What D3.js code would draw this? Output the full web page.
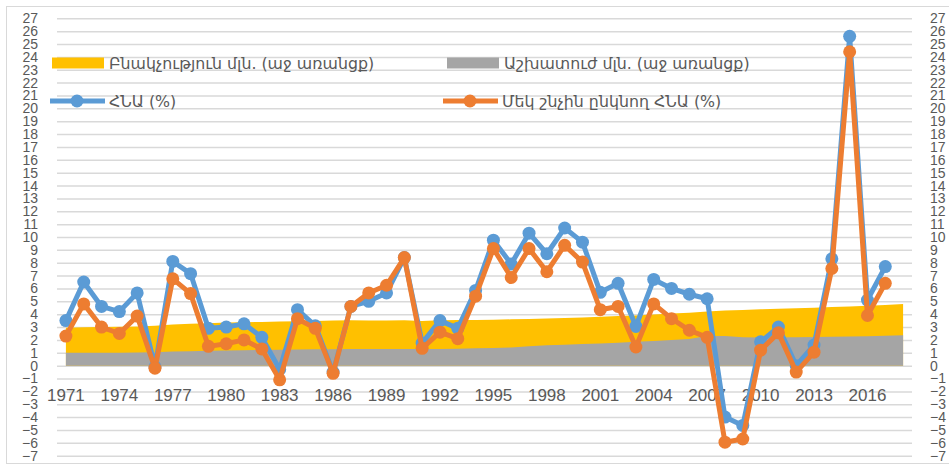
<!DOCTYPE html>
<html>
<head>
<meta charset="utf-8">
<script src="https://cdn.jsdelivr.net/npm/d3@7"></script>
<style>
  body { margin: 0; background: #fff; }
  svg { display: block; }
</style>
</head>
<body>
<svg id="chart" width="949" height="466"></svg>
<script>
var w = 949;
var h = 466;

var years = d3.range(1971, 2019);
var xTickYears = [1971, 1974, 1977, 1980, 1983, 1986, 1989, 1992, 1995, 1998, 2001, 2004, 2007, 2010, 2013, 2016];
var yTicks = [-7, -6, -5, -4, -3, -2, -1, 0, 1, 2, 3, 4, 5, 6, 7, 8, 9, 10, 11, 12, 13, 14, 15, 16, 17, 18, 19, 20, 21, 22, 23, 24, 25, 26, 27];

// population, mln (right axis)
var population = [2.95, 2.98, 3.0, 3.02, 3.05, 3.1, 3.2, 3.25, 3.3, 3.35, 3.38, 3.4, 3.43, 3.45, 3.48, 3.5,
  3.52, 3.5, 3.5, 3.52, 3.48, 3.52, 3.55, 3.55, 3.57, 3.6, 3.63, 3.67, 3.7, 3.75, 3.8, 3.85,
  3.9, 3.97, 4.05, 4.12, 4.2, 4.28, 4.33, 4.38, 4.42, 4.46, 4.5, 4.55, 4.6, 4.66, 4.72, 4.8];
// labour force, mln (right axis)
var labour = [1.0, 1.0, 1.0, 1.01, 1.02, 1.05, 1.1, 1.12, 1.15, 1.18, 1.2, 1.22, 1.24, 1.25, 1.27, 1.28,
  1.29, 1.3, 1.3, 1.3, 1.3, 1.3, 1.32, 1.35, 1.38, 1.42, 1.5, 1.58, 1.62, 1.68, 1.72, 1.78,
  1.85, 1.92, 2.0, 2.08, 2.3, 2.3, 2.2, 2.18, 2.2, 2.2, 2.22, 2.24, 2.26, 2.28, 2.32, 2.36];
// GDP growth, % (1971-2017)
var gdp = [3.5, 6.5, 4.6, 4.2, 5.65, -0.1, 8.1, 7.15, 2.9, 3.0, 3.25, 2.2, -0.3, 4.35, 3.1, -0.5,
  4.6, 5.0, 5.65, 8.4, 1.75, 3.5, 2.9, 5.85, 9.75, 7.9, 10.3, 8.7, 10.7, 9.6, 5.7, 6.4,
  3.05, 6.7, 6.0, 5.55, 5.2, -4.0, -4.65, 1.85, 3.0, 0.0, 1.6, 8.3, 25.6, 5.1, 7.7];
// GDP per capita growth, % (1971-2017)
var gdpPc = [2.3, 4.8, 3.0, 2.5, 3.85, -0.2, 6.75, 5.6, 1.5, 1.7, 2.0, 1.3, -1.1, 3.65, 2.9, -0.6,
  4.6, 5.65, 6.25, 8.4, 1.35, 2.6, 2.1, 5.4, 9.1, 6.85, 9.1, 7.3, 9.35, 8.05, 4.35, 4.6,
  1.45, 4.8, 3.65, 2.75, 2.2, -5.95, -5.7, 1.2, 2.55, -0.5, 1.05, 7.55, 24.4, 3.9, 6.4];

var legendLabels = [
  "Բնակչություն մլն. (աջ առանցք)",
  "Աշխատուժ մլն. (աջ առանցք)",
  "ՀՆԱ (%)",
  "Մեկ շնչին ընկնող ՀՆԱ (%)"
];

var margin = { top: 18.3, right: 37, bottom: 10.3, left: 57 };

var svg = d3.select("#chart");

svg.append("rect")
  .attr("x", 6.5).attr("y", 6.5)
  .attr("width", 960).attr("height", 457)
  .attr("fill", "#fff")
  .attr("stroke", "#d9d9d9");

var xScale = d3.scaleBand()
  .domain(years)
  .range([margin.left, w - margin.right]);

var yScale = d3.scaleLinear()
  .domain([-7, 27])
  .range([h - margin.bottom, margin.top]);

var yRight = d3.scaleLinear()
  .domain([-7, 27])
  .range([h - margin.bottom, margin.top]);

function cx(d, i) { return xScale(years[i]) + xScale.bandwidth() / 2; }

// gridlines
svg.append("g")
  .attr("transform", "translate(" + margin.left + ",0)")
  .call(d3.axisLeft(yScale).tickValues(yTicks).tickSize(-(w - margin.right - margin.left)).tickFormat(""))
  .call(function(g) {
    g.select(".domain").remove();
    g.selectAll("line").attr("stroke", "#d9d9d9").attr("stroke-width", 1.5);
  });

// left axis labels (squashed like the original)
svg.append("g")
  .attr("transform", "translate(38,0)")
  .call(d3.axisLeft(yScale).tickValues(yTicks).tickSize(0).tickPadding(0))
  .call(function(g) {
    g.select(".domain").remove();
    g.selectAll("text")
      .attr("fill", "#595959")
      .style("font", "14px 'Liberation Sans', Arial, sans-serif");
  });

// right axis labels
svg.append("g")
  .attr("transform", "translate(930,0)")
  .call(d3.axisRight(yRight).tickValues(yTicks).tickSize(0).tickPadding(0))
  .call(function(g) {
    g.select(".domain").remove();
    g.selectAll("text")
      .attr("fill", "#595959")
      .style("font", "14px 'Liberation Sans', Arial, sans-serif");
  });

// areas
var area = d3.area()
  .x(cx)
  .y0(yRight(0))
  .y1(function(d) { return yRight(d); });

svg.append("path")
  .datum(population)
  .attr("fill", "#FFC000")
  .attr("d", area);

svg.append("path")
  .datum(labour)
  .attr("fill", "#A5A5A5")
  .attr("d", area);

// x axis labels
svg.append("g")
  .attr("transform", "translate(0," + yScale(0) + ")")
  .call(d3.axisBottom(xScale)
    .tickValues(xTickYears)
    .tickSize(0)
    .tickPadding(23))
  .call(function(g) {
    g.select(".domain").remove();
    g.selectAll("text")
      .attr("fill", "#595959")
      .style("font", "17px 'Liberation Sans', Arial, sans-serif");
  });

// lines
var line = d3.line()
  .x(cx)
  .y(function(d) { return yScale(d); });

var lineSeries = [
  { values: gdp, color: "#5B9BD5" },
  { values: gdpPc, color: "#ED7D31" }
];

lineSeries.forEach(function(s) {
  var g = svg.append("g");
  g.append("path")
    .datum(s.values)
    .attr("fill", "none")
    .attr("stroke", s.color)
    .attr("stroke-width", 5)
    .attr("stroke-linejoin", "round")
    .attr("d", line);
  g.selectAll("circle")
    .data(s.values)
    .enter()
    .append("circle")
    .attr("cx", cx)
    .attr("cy", function(d) { return yScale(d); })
    .attr("r", 6.5)
    .attr("fill", s.color);
});

// legend
var legendItems = [
  { x: 52, y: 63, type: "rect", color: "#FFC000", label: legendLabels[0] },
  { x: 447, y: 63, type: "rect", color: "#A5A5A5", label: legendLabels[1] },
  { x: 50, y: 101, type: "line", color: "#5B9BD5", label: legendLabels[2] },
  { x: 443, y: 101, type: "line", color: "#ED7D31", label: legendLabels[3] }
];

var legend = svg.append("g");
legendItems.forEach(function(d) {
  var g = legend.append("g").attr("transform", "translate(" + d.x + "," + d.y + ")");
  if (d.type === "rect") {
    g.append("rect").attr("x", 0).attr("y", -5.5).attr("width", 52).attr("height", 11).attr("fill", d.color);
  } else {
    g.append("line").attr("x1", 0).attr("x2", 55).attr("y1", 0).attr("y2", 0)
      .attr("stroke", d.color).attr("stroke-width", 5);
    g.append("circle").attr("cx", 27).attr("cy", 0).attr("r", 6.5).attr("fill", d.color);
  }
  g.append("text")
    .attr("x", d.type === "rect" ? 57 : 59)
    .attr("y", 0)
    .attr("dy", "0.35em")
    .attr("fill", "#595959")
    .style("font", "15.8px 'DejaVu Sans', 'Noto Sans', sans-serif")
    .text(d.label);
});
</script>
</body>
</html>
